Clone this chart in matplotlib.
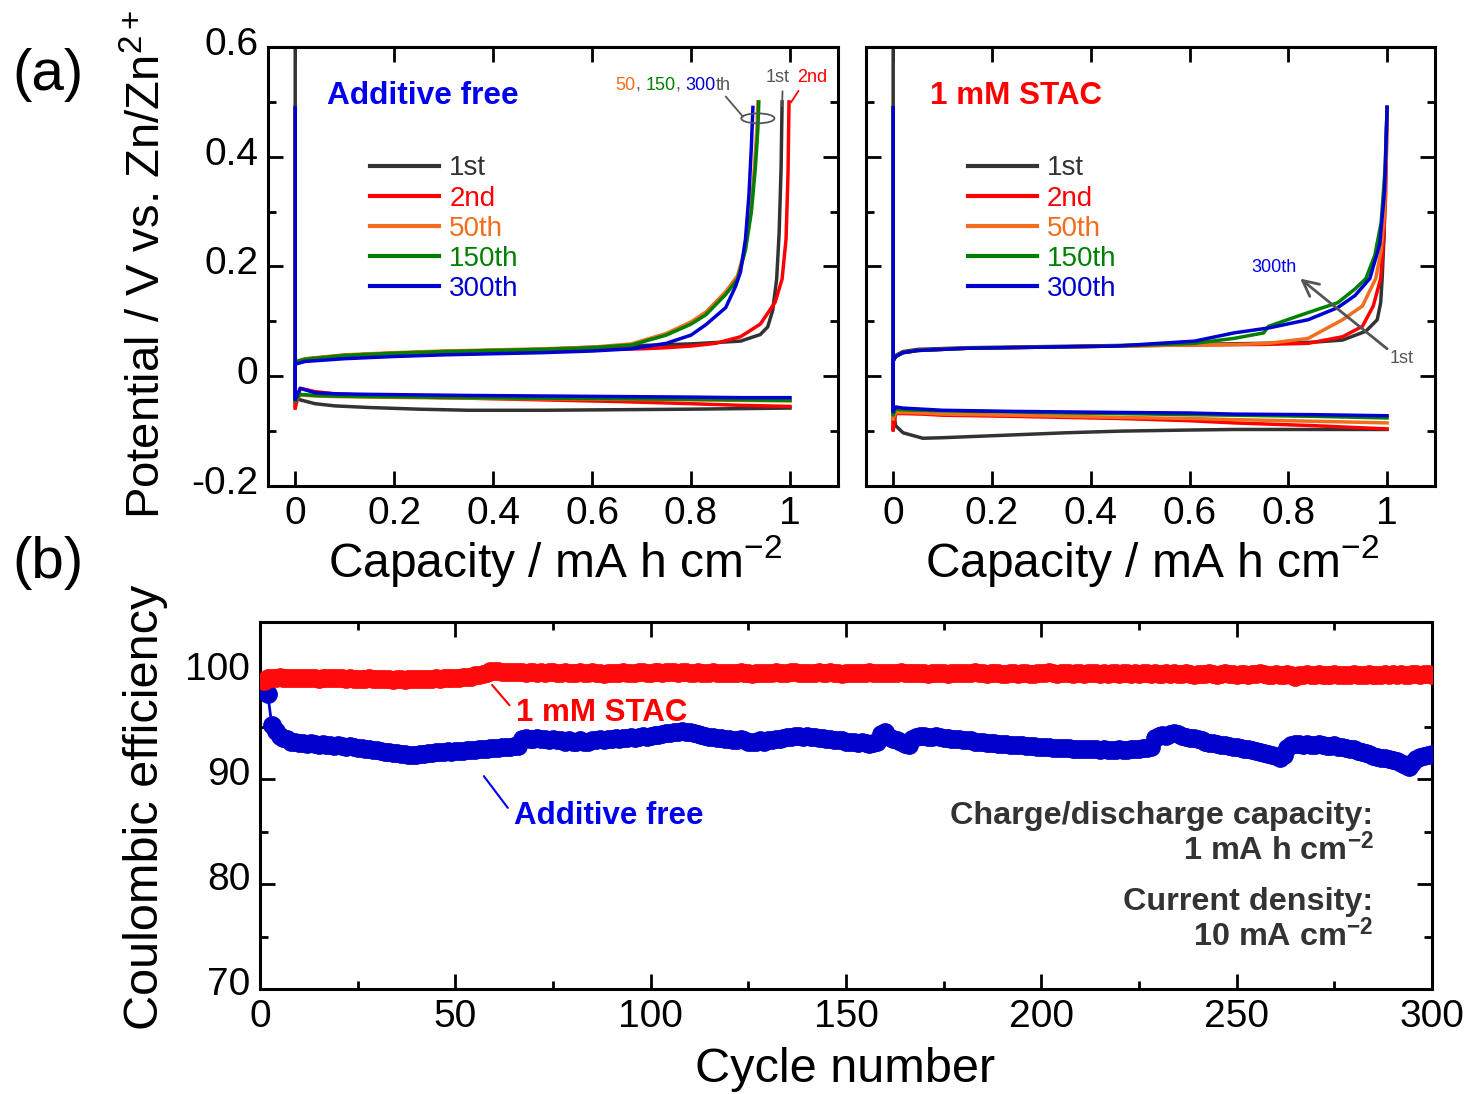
import matplotlib
matplotlib.use("Agg")
import matplotlib.pyplot as plt
from matplotlib.patches import Ellipse
from matplotlib.offsetbox import TextArea, HPacker, AnnotationBbox
from matplotlib.lines import Line2D
from matplotlib.ticker import MultipleLocator, FuncFormatter
from matplotlib.transforms import ScaledTranslation

plt.rcParams['font.family'] = ['Liberation Sans', 'DejaVu Sans']
plt.rcParams['mathtext.fontset'] = 'custom'
plt.rcParams['mathtext.rm'] = 'Liberation Sans'
plt.rcParams['mathtext.it'] = 'Liberation Sans:italic'
plt.rcParams['mathtext.bf'] = 'Liberation Sans:bold'
plt.rcParams['axes.unicode_minus'] = False

# ---------------------------------------------------------------- data
cycle_labels = ['1st', '2nd', '50th', '150th', '300th']
cycle_colors = ['#333333', '#ff0000', '#f26d1d', '#008000', '#0000d0']

# Additive free: plating branch (capacity / mA h cm-2, potential / V)
af_plate_cap = [0, 0, 0.01, 0.04, 0.08, 0.15, 0.25, 0.35, 0.5, 0.65, 0.8, 0.9, 1.0]
af_plate_v_1st = [0.65, -0.038, -0.043, -0.050, -0.054, -0.057, -0.060, -0.062, -0.062, -0.061, -0.060, -0.059, -0.058]
af_plate_v_2nd = [0.48, -0.058, -0.022, -0.028, -0.032, -0.035, -0.038, -0.040, -0.043, -0.046, -0.050, -0.053, -0.055]
af_plate_v_50th = [0.49, -0.045, -0.034, -0.036, -0.037, -0.038, -0.039, -0.040, -0.041, -0.042, -0.043, -0.044, -0.045]
af_plate_v_150th = [0.49, -0.045, -0.033, -0.035, -0.036, -0.037, -0.038, -0.039, -0.040, -0.041, -0.042, -0.043, -0.044]
af_plate_v_300th = [0.49, -0.042, -0.022, -0.030, -0.032, -0.033, -0.034, -0.035, -0.036, -0.037, -0.038, -0.039, -0.039]

# Additive free: stripping branch
af_strip_cap_1st = [0, 0, 0.02, 0.1, 0.2, 0.3, 0.4, 0.5, 0.6, 0.7, 0.8, 0.9, 0.94, 0.955, 0.965, 0.973, 0.978, 0.982, 0.984]
af_strip_v_1st = [-0.038, 0.025, 0.031, 0.038, 0.042, 0.045, 0.047, 0.049, 0.053, 0.056, 0.059, 0.064, 0.076, 0.090, 0.120, 0.177, 0.26, 0.38, 0.50]
af_strip_cap_2nd = [0, 0, 0.02, 0.1, 0.2, 0.3, 0.4, 0.5, 0.6, 0.7, 0.75, 0.8, 0.85, 0.9, 0.94, 0.97, 0.984, 0.992, 0.996, 0.998]
af_strip_v_2nd = [-0.058, 0.025, 0.031, 0.038, 0.042, 0.045, 0.047, 0.048, 0.049, 0.050, 0.052, 0.055, 0.060, 0.072, 0.095, 0.135, 0.177, 0.25, 0.37, 0.50]
af_strip_cap_50th = [0, 0, 0.02, 0.1, 0.2, 0.3, 0.4, 0.5, 0.6, 0.68, 0.75, 0.8, 0.83, 0.87, 0.894, 0.91, 0.921, 0.928, 0.933, 0.935]
af_strip_v_50th = [-0.045, 0.027, 0.032, 0.039, 0.043, 0.046, 0.048, 0.050, 0.053, 0.059, 0.078, 0.099, 0.117, 0.154, 0.183, 0.235, 0.30, 0.38, 0.45, 0.50]
af_strip_cap_150th = [0, 0, 0.02, 0.1, 0.2, 0.3, 0.4, 0.5, 0.6, 0.68, 0.75, 0.8, 0.83, 0.87, 0.894, 0.91, 0.922, 0.93, 0.935, 0.937]
af_strip_v_150th = [-0.045, 0.026, 0.031, 0.038, 0.042, 0.045, 0.047, 0.049, 0.052, 0.057, 0.075, 0.095, 0.112, 0.149, 0.177, 0.23, 0.30, 0.38, 0.45, 0.50]
af_strip_cap_300th = [0, 0, 0.02, 0.1, 0.2, 0.3, 0.4, 0.5, 0.6, 0.68, 0.75, 0.8, 0.83, 0.87, 0.89, 0.9, 0.91, 0.917, 0.922, 0.925]
af_strip_v_300th = [-0.042, 0.022, 0.027, 0.032, 0.036, 0.039, 0.041, 0.043, 0.046, 0.050, 0.060, 0.075, 0.094, 0.125, 0.164, 0.19, 0.25, 0.33, 0.42, 0.49]

# 1 mM STAC: plating branch
st_plate_cap = [0, 0, 0.005, 0.02, 0.06, 0.1, 0.24, 0.35, 0.46, 0.6, 0.69, 0.85, 1.0]
st_plate_v_1st = [0.65, -0.061, -0.090, -0.103, -0.113, -0.112, -0.107, -0.103, -0.100, -0.098, -0.097, -0.097, -0.097]
st_plate_v_2nd = [0.48, -0.098, -0.068, -0.068, -0.069, -0.071, -0.073, -0.075, -0.077, -0.081, -0.085, -0.090, -0.096]
st_plate_v_50th = [0.49, -0.078, -0.066, -0.066, -0.067, -0.069, -0.071, -0.073, -0.075, -0.077, -0.079, -0.082, -0.085]
st_plate_v_150th = [0.49, -0.070, -0.060, -0.061, -0.062, -0.063, -0.065, -0.067, -0.068, -0.070, -0.071, -0.073, -0.076]
st_plate_v_300th = [0.49, -0.064, -0.056, -0.058, -0.060, -0.062, -0.064, -0.065, -0.066, -0.067, -0.069, -0.070, -0.072]

# 1 mM STAC: stripping branch
st_strip_cap_1st = [0, 0, 0.005, 0.02, 0.05, 0.15, 0.3, 0.45, 0.6, 0.75, 0.85, 0.91, 0.957, 0.98, 0.987, 0.99, 0.994, 0.997, 1.0]
st_strip_v_1st = [-0.061, 0.030, 0.038, 0.045, 0.049, 0.052, 0.054, 0.056, 0.058, 0.060, 0.062, 0.066, 0.082, 0.103, 0.134, 0.178, 0.26, 0.38, 0.49]
st_strip_cap_2nd = [0, 0, 0.005, 0.02, 0.05, 0.15, 0.3, 0.45, 0.6, 0.75, 0.84, 0.91, 0.95, 0.972, 0.987, 0.993, 0.997, 0.999, 1.0]
st_strip_v_2nd = [-0.098, 0.028, 0.036, 0.043, 0.047, 0.051, 0.053, 0.055, 0.057, 0.058, 0.060, 0.072, 0.091, 0.128, 0.178, 0.25, 0.33, 0.42, 0.49]
st_strip_cap_50th = [0, 0, 0.005, 0.02, 0.05, 0.15, 0.3, 0.45, 0.6, 0.7, 0.76, 0.84, 0.91, 0.95, 0.977, 0.988, 0.995, 0.998, 1.0]
st_strip_v_50th = [-0.078, 0.028, 0.036, 0.043, 0.047, 0.051, 0.053, 0.055, 0.057, 0.058, 0.060, 0.069, 0.103, 0.128, 0.178, 0.23, 0.30, 0.40, 0.49]
st_strip_cap_150th = [0, 0, 0.005, 0.02, 0.05, 0.15, 0.3, 0.45, 0.61, 0.69, 0.75, 0.76, 0.84, 0.9, 0.935, 0.957, 0.975, 0.988, 0.996, 1.0]
st_strip_v_150th = [-0.070, 0.028, 0.036, 0.043, 0.047, 0.051, 0.053, 0.055, 0.060, 0.069, 0.079, 0.091, 0.116, 0.134, 0.159, 0.178, 0.22, 0.28, 0.38, 0.49]
st_strip_cap_300th = [0, 0, 0.005, 0.02, 0.05, 0.15, 0.3, 0.45, 0.61, 0.69, 0.76, 0.84, 0.9, 0.935, 0.965, 0.985, 0.995, 1.0]
st_strip_v_300th = [-0.064, 0.028, 0.036, 0.043, 0.047, 0.051, 0.053, 0.055, 0.064, 0.079, 0.088, 0.103, 0.125, 0.147, 0.178, 0.24, 0.34, 0.49]

# Coulombic efficiency / % for cycles 1-300
ce_additive_free = [
    98.4, 98.1, 95.2, 94.6, 94.1, 93.9, 93.8, 93.6, 93.6, 93.5,
    93.5, 93.4, 93.5, 93.4, 93.3, 93.4, 93.3, 93.3, 93.2, 93.3,
    93.2, 93.1, 93.2, 93.1, 93.0, 93.0, 92.9, 92.9, 92.8, 92.8,
    92.7, 92.6, 92.6, 92.5, 92.5, 92.4, 92.4, 92.3, 92.3, 92.3,
    92.4, 92.4, 92.5, 92.5, 92.6, 92.6, 92.6, 92.7, 92.6, 92.7,
    92.7, 92.7, 92.8, 92.8, 92.8, 92.9, 92.9, 92.9, 93.0, 93.0,
    93.0, 93.1, 93.1, 93.1, 93.2, 93.2, 93.8, 93.9, 93.8, 93.8,
    93.9, 93.8, 93.8, 93.7, 93.8, 93.7, 93.7, 93.6, 93.7, 93.6,
    93.6, 93.7, 93.6, 93.6, 93.7, 93.7, 93.8, 93.7, 93.8, 93.8,
    93.9, 93.8, 93.9, 93.9, 94.0, 93.9, 94.0, 94.1, 94.0, 94.1,
    94.2, 94.2, 94.3, 94.4, 94.4, 94.5, 94.5, 94.6, 94.5, 94.5,
    94.4, 94.3, 94.2, 94.1, 94.0, 94.0, 93.9, 93.9, 93.8, 93.8,
    93.7, 93.7, 93.8, 93.7, 93.6, 93.6, 93.6, 93.7, 93.6, 93.7,
    93.7, 93.8, 93.8, 93.9, 94.0, 94.0, 94.1, 94.1, 94.0, 94.1,
    94.0, 94.0, 93.9, 93.9, 93.8, 93.8, 93.7, 93.7, 93.7, 93.6,
    93.6, 93.6, 93.5, 93.6, 93.5, 93.4, 93.5, 93.6, 94.3, 94.5,
    94.0, 93.8, 93.7, 93.6, 93.4, 93.3, 93.8, 94.0, 94.1, 94.1,
    94.0, 94.0, 94.1, 94.0, 93.9, 93.9, 93.8, 93.8, 93.8, 93.7,
    93.7, 93.7, 93.6, 93.6, 93.6, 93.5, 93.5, 93.5, 93.4, 93.4,
    93.4, 93.3, 93.3, 93.3, 93.3, 93.2, 93.2, 93.2, 93.1, 93.1,
    93.1, 93.1, 93.0, 93.0, 93.0, 93.0, 93.0, 92.9, 92.9, 92.9,
    92.9, 92.9, 92.9, 92.9, 92.8, 92.9, 92.8, 92.8, 92.8, 92.9,
    92.8, 92.8, 92.9, 92.9, 92.9, 93.0, 93.0, 93.1, 93.9, 94.1,
    94.2, 94.1, 94.3, 94.4, 94.3, 94.1, 94.0, 93.9, 93.9, 93.8,
    93.7, 93.6, 93.5, 93.5, 93.4, 93.3, 93.3, 93.2, 93.1, 93.1,
    93.0, 92.9, 92.9, 92.8, 92.7, 92.6, 92.5, 92.4, 92.3, 92.2,
    92.0, 92.3, 93.0, 93.3, 93.4, 93.4, 93.3, 93.4, 93.3, 93.3,
    93.4, 93.3, 93.2, 93.2, 93.3, 93.1, 93.1, 93.0, 92.9, 92.9,
    92.7, 92.6, 92.5, 92.4, 92.2, 92.1, 92.0, 92.0, 91.9, 91.8,
    91.7, 91.6, 91.4, 91.2, 91.6, 91.9, 92.1, 92.2, 92.3, 92.4,
]
ce_stac = [
    99.4, 99.7, 99.7, 99.7, 99.8, 99.7, 99.7, 99.7, 99.7, 99.7,
    99.7, 99.7, 99.7, 99.7, 99.6, 99.7, 99.7, 99.7, 99.7, 99.7,
    99.7, 99.6, 99.7, 99.6, 99.6, 99.6, 99.6, 99.7, 99.6, 99.6,
    99.6, 99.6, 99.6, 99.5, 99.6, 99.6, 99.5, 99.6, 99.6, 99.6,
    99.6, 99.6, 99.6, 99.6, 99.7, 99.6, 99.7, 99.7, 99.7, 99.7,
    99.7, 99.8, 99.8, 99.8, 99.9, 99.9, 100.0, 100.1, 100.3, 100.3,
    100.3, 100.2, 100.2, 100.2, 100.2, 100.2, 100.2, 100.1, 100.2, 100.2,
    100.1, 100.2, 100.1, 100.2, 100.2, 100.1, 100.1, 100.2, 100.1, 100.1,
    100.1, 100.2, 100.1, 100.1, 100.2, 100.1, 100.1, 100.0, 100.1, 100.1,
    100.1, 100.1, 100.2, 100.1, 100.1, 100.1, 100.2, 100.2, 100.1, 100.1,
    100.2, 100.2, 100.1, 100.2, 100.2, 100.2, 100.1, 100.2, 100.2, 100.1,
    100.1, 100.2, 100.1, 100.1, 100.1, 100.2, 100.1, 100.1, 100.1, 100.1,
    100.1, 100.1, 100.2, 100.1, 100.1, 100.0, 100.1, 100.1, 100.1, 100.1,
    100.1, 100.2, 100.1, 100.1, 100.1, 100.2, 100.2, 100.1, 100.1, 100.1,
    100.1, 100.1, 100.2, 100.1, 100.1, 100.2, 100.1, 100.1, 100.0, 100.1,
    100.1, 100.1, 100.1, 100.1, 100.1, 100.2, 100.1, 100.1, 100.1, 100.1,
    100.1, 100.1, 100.1, 100.2, 100.1, 100.1, 100.1, 100.1, 100.1, 100.1,
    100.0, 100.1, 100.1, 100.1, 100.1, 100.0, 100.1, 100.1, 100.1, 100.1,
    100.1, 100.1, 100.2, 100.1, 100.1, 100.0, 100.1, 100.1, 100.1, 100.0,
    100.0, 100.1, 100.1, 100.0, 100.1, 100.1, 100.0, 100.0, 100.1, 100.1,
    100.1, 100.2, 100.1, 100.0, 100.1, 100.1, 100.1, 100.0, 100.1, 100.1,
    100.0, 100.1, 100.1, 100.1, 100.0, 100.1, 100.0, 100.1, 100.1, 100.0,
    100.1, 100.1, 100.0, 100.1, 100.0, 100.1, 100.1, 100.0, 100.1, 100.0,
    100.0, 100.1, 100.0, 100.1, 100.0, 100.0, 100.1, 100.0, 99.9, 100.0,
    100.0, 100.0, 100.1, 100.0, 99.9, 100.0, 100.1, 100.0, 100.0, 99.9,
    100.0, 100.0, 99.9, 100.0, 100.0, 100.1, 100.0, 99.9, 99.9, 100.0,
    99.9, 99.9, 100.0, 99.9, 99.8, 99.9, 99.9, 100.0, 99.9, 99.9,
    100.0, 99.9, 99.9, 99.9, 100.0, 99.9, 99.9, 99.9, 99.9, 100.0,
    99.9, 99.9, 99.9, 100.0, 99.9, 99.9, 99.9, 100.0, 99.9, 100.0,
    99.9, 100.0, 99.9, 99.9, 100.0, 100.0, 99.9, 100.0, 100.0, 99.9,
]
cycles = list(range(1, len(ce_stac) + 1))

# ---------------------------------------------------------------- figure
W, H = 1469, 1094
fig = plt.figure(figsize=(W / 100, H / 100), dpi=100)


def px_axes(x0, y0, x1, y1):
    return fig.add_axes([x0 / W, 1 - y1 / H, (x1 - x0) / W, (y1 - y0) / H])


ax_af = px_axes(268, 47, 838, 486)
ax_st = px_axes(866, 47, 1435, 486)
ax_ce = px_axes(260, 622, 1432, 989)

BLUE_TXT = '#0000ee'
GRAY = '#555555'


def fmt_num(v, _):
    if abs(v) < 1e-9:
        return '0'
    if abs(v - round(v)) < 1e-9:
        return f'{v:.0f}'
    return f'{v:.1f}'


def style_axes(ax):
    for s in ax.spines.values():
        s.set_linewidth(2.2)
    ax.tick_params(which='both', direction='in', top=True, right=True,
                   width=2.0, labelsize=28, pad=7)
    ax.tick_params(which='major', length=11)
    ax.tick_params(which='minor', length=6)


def lift_yticklabels(ax, px):
    off = ScaledTranslation(0, px / 100, fig.dpi_scale_trans)
    for lab in ax.get_yticklabels():
        lab.set_transform(lab.get_transform() + off)


plate_sets = {
    ax_af: (af_plate_cap,
            [af_plate_v_1st, af_plate_v_2nd, af_plate_v_50th, af_plate_v_150th, af_plate_v_300th],
            [af_strip_cap_1st, af_strip_cap_2nd, af_strip_cap_50th, af_strip_cap_150th, af_strip_cap_300th],
            [af_strip_v_1st, af_strip_v_2nd, af_strip_v_50th, af_strip_v_150th, af_strip_v_300th]),
    ax_st: (st_plate_cap,
            [st_plate_v_1st, st_plate_v_2nd, st_plate_v_50th, st_plate_v_150th, st_plate_v_300th],
            [st_strip_cap_1st, st_strip_cap_2nd, st_strip_cap_50th, st_strip_cap_150th, st_strip_cap_300th],
            [st_strip_v_1st, st_strip_v_2nd, st_strip_v_50th, st_strip_v_150th, st_strip_v_300th]),
}

for ax, (pcap, pvs, scaps, svs) in plate_sets.items():
    for i, color in enumerate(cycle_colors):
        ax.plot(pcap, pvs[i], color=color, lw=2.5, solid_joinstyle='round', zorder=2 + i)
        ax.plot(scaps[i], svs[i], color=color, lw=2.5, solid_joinstyle='round', zorder=2 + i)
    style_axes(ax)
    ax.set_xlim(-0.055, 1.097)
    ax.set_ylim(-0.2, 0.6)
    ax.xaxis.set_major_locator(MultipleLocator(0.2))
    ax.yaxis.set_major_locator(MultipleLocator(0.2))
    ax.yaxis.set_minor_locator(MultipleLocator(0.1))
    ax.xaxis.set_major_formatter(FuncFormatter(fmt_num))
    ax.yaxis.set_major_formatter(FuncFormatter(fmt_num))
    handles = [Line2D([], [], color=c, lw=3) for c in cycle_colors]
    ax.legend(handles, cycle_labels, loc='upper left', bbox_to_anchor=(0.179, 0.753),
              frameon=False, fontsize=20, handlelength=2.5, handletextpad=0.35,
              labelspacing=0.15, borderpad=0, borderaxespad=0, labelcolor='linecolor')

ax_st.tick_params(labelleft=False)

ax_af.text(0.1035, 0.889, 'Additive free', transform=ax_af.transAxes, color=BLUE_TXT,
           fontsize=22.8, fontweight='bold', ha='left', va='center')
ax_st.text(0.1125, 0.889, '1 mM STAC', transform=ax_st.transAxes, color='#ff0000',
           fontsize=22.6, fontweight='bold', ha='left', va='center')

# cycle callouts, additive-free panel
parts = [('50', cycle_colors[2]), (', ', GRAY), ('150', cycle_colors[3]),
         (', ', GRAY), ('300', cycle_colors[4]), ('th', GRAY)]
pack = HPacker(children=[TextArea(t, textprops=dict(color=c, fontsize=13)) for t, c in parts],
               align='baseline', pad=0, sep=0)
ab = AnnotationBbox(pack, (0.905, 0.473), xybox=(0.764, 0.530), xycoords='data',
                    boxcoords='data', frameon=False, box_alignment=(0.5, 0.5), pad=0,
                    arrowprops=dict(arrowstyle='-', color=GRAY, lw=1.3,
                                    relpos=(0.93, 0.05), shrinkA=2, shrinkB=0))
ax_af.add_artist(ab)
ax_af.add_patch(Ellipse((0.935, 0.47), width=0.067, height=0.018, fill=False,
                        ec=GRAY, lw=1.3, zorder=10))
ax_af.annotate('1st', xy=(0.984, 0.492), xytext=(0.974, 0.545), color=GRAY, fontsize=13,
               ha='center', va='center',
               arrowprops=dict(arrowstyle='-', color=GRAY, lw=1.3, relpos=(0.73, 0),
                               shrinkA=2, shrinkB=0))
ax_af.annotate('2nd', xy=(1.002, 0.499), xytext=(1.044, 0.545), color='#ff0000', fontsize=13,
               ha='center', va='center',
               arrowprops=dict(arrowstyle='-', color='#ff0000', lw=1.3, relpos=(0.17, 0),
                               shrinkA=2, shrinkB=0))

# cycle trend arrow, STAC panel
ax_st.annotate('', xy=(0.824, 0.178), xytext=(1.0, 0.05),
               arrowprops=dict(arrowstyle='->', color=GRAY, lw=2.0, mutation_scale=28,
                               shrinkA=0, shrinkB=0), zorder=20)
ax_st.text(1.03, 0.033, '1st', color=GRAY, fontsize=13, ha='center', va='center')
ax_st.text(0.77, 0.198, '300th', color=BLUE_TXT, fontsize=13, ha='center', va='center')

# ---------------------------------------------------------------- (b)
ax_ce.plot(cycles, ce_additive_free, color='#0000cc', lw=2.0, marker='o', ms=12.5,
           mec='#0000cc', mfc='#0000cc', zorder=3)
ax_ce.plot(cycles, ce_stac, color='#ff0a0a', lw=2.0, marker='o', ms=12.5,
           mec='#ff0a0a', mfc='#ff0a0a', zorder=4)
style_axes(ax_ce)
ax_ce.set_xlim(0, 300)
ax_ce.set_ylim(70, 105)
ax_ce.xaxis.set_major_locator(MultipleLocator(50))
ax_ce.xaxis.set_minor_locator(MultipleLocator(25))
ax_ce.yaxis.set_major_locator(MultipleLocator(10))
ax_ce.yaxis.set_minor_locator(MultipleLocator(5))
ax_ce.yaxis.set_major_formatter(FuncFormatter(lambda v, _: '' if v > 101 else f'{v:.0f}'))

ax_ce.annotate('1 mM STAC', xy=(59.4, 99.0), xytext=(65.5, 96.35), color='#ff0000',
               fontsize=22.5, fontweight='bold', ha='left', va='center',
               arrowprops=dict(arrowstyle='-', color='#ff0000', lw=1.5, relpos=(0, 0.5),
                               shrinkA=4, shrinkB=0), zorder=6)
ax_ce.annotate('Additive free', xy=(57.3, 90.3), xytext=(65.0, 86.5), color=BLUE_TXT,
               fontsize=22.5, fontweight='bold', ha='left', va='center',
               arrowprops=dict(arrowstyle='-', color=BLUE_TXT, lw=1.5, relpos=(0, 0.5),
                               shrinkA=4, shrinkB=0), zorder=6)

cond_kw = dict(ha='right', va='center', fontsize=23.3, fontweight='bold', color='#333333')
ax_ce.text(285.0, 86.5, 'Charge/discharge capacity:', **cond_kw)
ax_ce.text(285.0, 83.2, r'1 mA h cm$^{\mathbf{-2}}$', **cond_kw)
ax_ce.text(285.0, 78.3, 'Current density:', **cond_kw)
ax_ce.text(285.0, 75.05, r'10 mA cm$^{\mathbf{-2}}$', **cond_kw)

lift_yticklabels(ax_af, 6)
lift_yticklabels(ax_ce, 8)

# ---------------------------------------------------------------- labels
fig.text(148 / W, 1 - 265 / H, r'Potential / V vs. Zn/Zn$^{2+}$', rotation=90,
         fontsize=34, ha='center', va='center')
fig.text(555 / W, 1 - 561 / H, r'Capacity / mA h cm$^{-2}$', fontsize=34.5,
         ha='center', va='center')
fig.text(1152 / W, 1 - 561 / H, r'Capacity / mA h cm$^{-2}$', fontsize=34.5,
         ha='center', va='center')
fig.text(146 / W, 1 - 807 / H, 'Coulombic efficiency', rotation=90,
         fontsize=35, ha='center', va='center')
fig.text(845 / W, 1 - 1070 / H, 'Cycle number', fontsize=35, ha='center', va='center')
fig.text(48 / W, 1 - 75 / H, '(a)', fontsize=42, ha='center', va='center')
fig.text(48 / W, 1 - 563 / H, '(b)', fontsize=42, ha='center', va='center')

fig.savefig('out.png', dpi=100)
